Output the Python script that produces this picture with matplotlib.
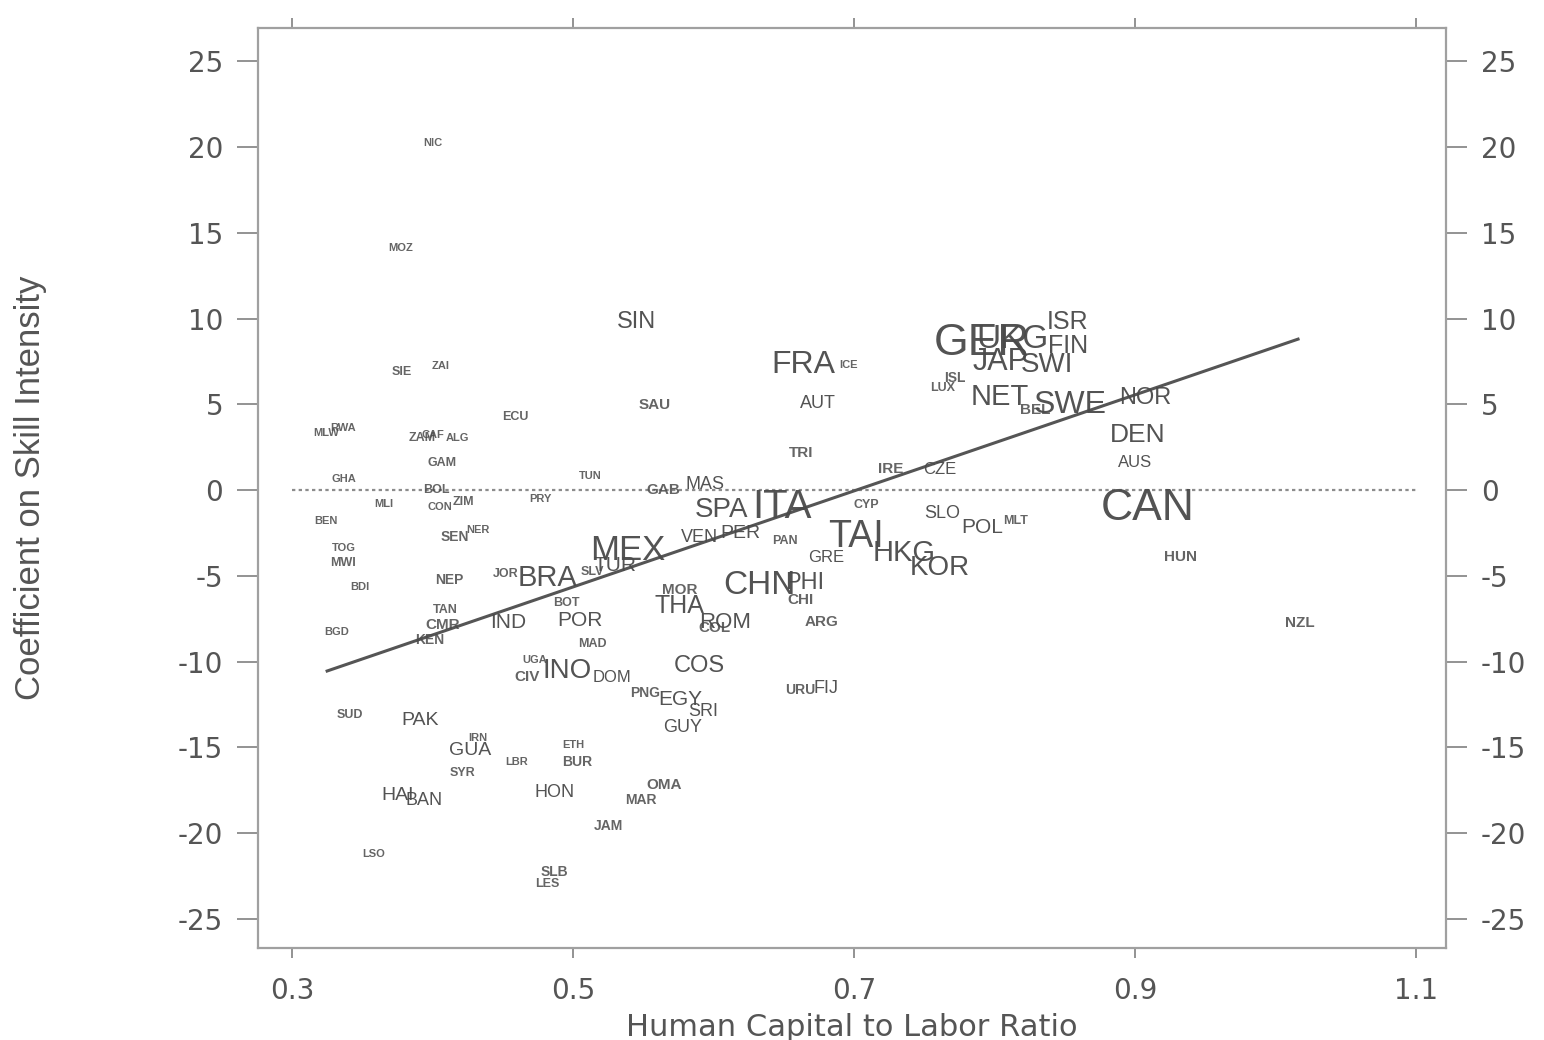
import matplotlib
matplotlib.use("Agg")
import matplotlib.pyplot as plt

plt.rcParams['font.family'] = ['Liberation Sans', 'DejaVu Sans']

# ---- data ----
labels = ["NIC","MOZ","SIE","ZAI","ECU","MLW","RWA","ZAM","CAF","ALG",
          "GAM","GHA","TUN","BOL","MLI","CON","ZIM","PRY","BEN","SEN",
          "NER","TOG","MWI","BDI","NEP","JOR","BRA","SLV","BGD","TAN",
          "CMR","KEN","IND","BOT","POR","MAD","SUD","PAK","IRN","GUA",
          "SYR","LBR","ETH","BUR","HAI","BAN","HON","LSO","SLB","LES",
          "JAM","MAR","OMA","UGA","CIV","INO","DOM","COS","PNG","EGY",
          "SRI","GUY","URU","FIJ","MOR","THA","ROM","COL","CHN","PHI",
          "CHI","ARG","GRE","TAI","HKG","KOR","PAN","CYP","SLO","POL",
          "MLT","IRE","CZE","TRI","AUT","FRA","ICE","SIN","SAU","GAB",
          "MAS","SPA","ITA","MEX","TUR","VEN","PER","GER","UKG","ISR",
          "FIN","JAP","SWI","ISL","LUX","NET","BEL","SWE","NOR","DEN",
          "AUS","CAN","HUN","NZL"]
hk_ratio = [0.400,0.377,0.378,0.406,0.459,0.324,0.336,0.393,0.400,0.418,
            0.407,0.337,0.512,0.403,0.365,0.405,0.422,0.477,0.324,0.416,
            0.432,0.337,0.336,0.348,0.412,0.452,0.482,0.514,0.332,0.409,
            0.407,0.398,0.454,0.495,0.505,0.514,0.341,0.391,0.432,0.427,
            0.421,0.460,0.500,0.503,0.375,0.394,0.487,0.358,0.487,0.482,
            0.525,0.548,0.565,0.473,0.467,0.496,0.528,0.590,0.551,0.576,
            0.593,0.578,0.662,0.680,0.576,0.576,0.608,0.601,0.633,0.665,
            0.662,0.677,0.680,0.701,0.736,0.761,0.651,0.709,0.763,0.791,
            0.815,0.726,0.761,0.662,0.674,0.664,0.696,0.545,0.558,0.564,
            0.594,0.606,0.649,0.539,0.530,0.590,0.619,0.791,0.813,0.852,
            0.852,0.804,0.837,0.772,0.763,0.804,0.829,0.854,0.907,0.902,
            0.900,0.909,0.932,1.017]
coef = [20.23,14.11,6.88,7.23,4.26,3.32,3.62,3.03,3.21,3.03,
        1.57,0.64,0.82,0.00,-0.82,-0.99,-0.70,-0.52,-1.81,-2.74,
        -2.33,-3.38,-4.26,-5.66,-5.25,-4.90,-5.13,-4.78,-8.28,-7.00,
        -7.87,-8.75,-7.70,-6.59,-7.58,-8.98,-13.12,-13.41,-14.46,-15.16,
        -16.50,-15.86,-14.87,-15.86,-17.78,-18.08,-17.61,-21.22,-22.27,-22.97,
        -19.59,-18.08,-17.20,-9.91,-10.90,-10.55,-10.90,-10.26,-11.84,-12.24,
        -12.94,-13.82,-11.66,-11.55,-5.83,-6.76,-7.70,-8.05,-5.54,-5.42,
        -6.41,-7.70,-3.91,-2.74,-3.67,-4.55,-2.97,-0.87,-1.34,-2.16,
        -1.81,1.22,1.17,2.16,5.07,7.29,7.29,9.80,4.96,0.00,
        0.35,-1.17,-0.99,-3.50,-4.37,-2.74,-2.51,8.57,8.75,9.80,
        8.40,7.46,7.29,6.53,5.95,5.42,4.66,4.96,5.36,3.21,
        1.63,-1.05,-3.91,-7.76]
label_size = [8,8,9,8,9,8,8,9,8,8,
              9,8,8,9,8,8,9,8,8,10,
              8,8,9,8,10,9,21,9,8,9,
              11,10,15,9,15,9,9,14,8,14,
              9,8,8,10,14,13,13,8,10,9,
              10,10,11,8,11,20,12,17,10,15,
              13,13,10,13,11,18,16,11,24,17,
              11,11,12,27,21,20,9,9,13,15,
              9,11,12,11,13,23,8,17,11,11,
              13,20,29,25,15,13,14,32,24,18,
              18,22,20,10,9,21,11,23,17,19,
              12,32,11,11]

fit_x = [0.325, 1.016]
fit_y = [-10.55, 8.80]
zero_x = [0.30, 1.10]
zero_y = [0.0, 0.0]

xticks = [0.3, 0.5, 0.7, 0.9, 1.1]
xtick_labels = ["0.3", "0.5", "0.7", "0.9", "1.1"]
yticks = [25, 20, 15, 10, 5, 0, -5, -10, -15, -20, -25]
ytick_labels = ["25", "20", "15", "10", "5", "0", "-5", "-10", "-15", "-20", "-25"]

# ---- figure ----
fig = plt.figure(figsize=(15.44, 10.40), dpi=100)
ax = fig.add_axes([258/1544, 1-948/1040, (1446-258)/1544, (948-28)/1040])

ax.set_xlim(0.2758, 1.1213)
ax.set_ylim(-26.7, 26.94)

grey = '#8a8a8a'
txt = '#4a4a4a'

ax.plot(zero_x, zero_y, linestyle=(0, (1.5, 1.5)), color='#8c8c8c', lw=1.6, zorder=1)
ax.plot(fit_x, fit_y, color='#555555', lw=2.2, zorder=2)

for lab, xv, yv, s in zip(labels, hk_ratio, coef, label_size):
    ax.text(xv, yv, lab, fontsize=s, color=txt, ha='center', va='center',
            fontweight='bold' if s <= 11 else 'normal',
            zorder=3, alpha=0.85 if s <= 11 else 0.95)

for sp in ax.spines.values():
    sp.set_color('#a0a0a0')
    sp.set_linewidth(1.6)

ax.set_xticks(xticks)
ax.set_xticklabels(xtick_labels)
ax.set_yticks(yticks)
ax.set_yticklabels(ytick_labels)

ax.tick_params(axis='y', which='both', direction='out', length=15, width=1.3,
               color=grey, labelcolor='#555555', labelsize=20, pad=10,
               left=True, right=True, labelleft=True, labelright=True)
ax.tick_params(axis='x', which='both', direction='out', length=7, width=1.3,
               color=grey, labelcolor='#555555', labelsize=20, pad=14,
               bottom=True, top=True, labelbottom=True, labeltop=False)
for t in ax.get_xticklabels() + ax.get_yticklabels():
    t.set_family('DejaVu Sans')

ax.set_xlabel("Human Capital to Labor Ratio", fontsize=22, color='#555555',
              family='DejaVu Sans')
ax.xaxis.set_label_coords(0.5, -0.071)
ax.set_ylabel("Coefficient on Skill Intensity", fontsize=25, color='#555555',
              family='Liberation Sans')
ax.yaxis.set_label_coords(-0.178, 0.5)

fig.savefig("out.png", dpi=100)
